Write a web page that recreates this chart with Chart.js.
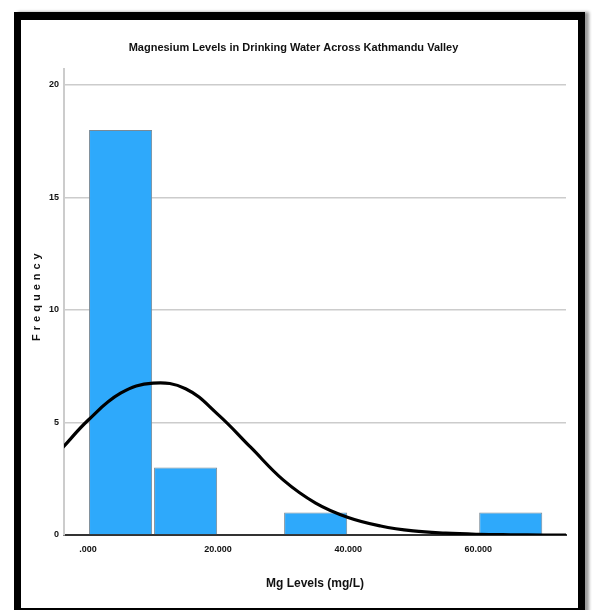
<!DOCTYPE html>
<html>
<head>
<meta charset="utf-8">
<script src="https://cdn.jsdelivr.net/npm/chart.js@4.4.1/dist/chart.umd.min.js"></script>
<style>
  body { margin: 0; background: #fff; width: 592px; height: 610px; overflow: hidden; position: relative; }
  #frame { position: absolute; left: 14px; top: 12px; width: 571px; height: 603px; box-sizing: border-box;
           border: 7px solid #000; border-top-width: 8px; box-shadow: 4px 0 3px #999; }
  #chart { position: absolute; left: 21px; top: 20px; }
</style>
</head>
<body>
<div id="frame"></div>
<canvas id="chart" width="556" height="588"></canvas>
<script>
// histogram bins (centres, mg/L) and counts
const binCentres = [5, 15, 25, 35, 45, 55, 65]
const counts = [18, 3, 0, 1, 0, 0, 1]

// fitted normal curve
const curveX = [-4, 0, 5, 10, 15, 20, 25, 30, 35, 40, 45, 50, 55, 60, 65, 70, 74]
const curveY = [3.85, 5.1, 6.3, 6.75, 6.5, 5.35, 3.9, 2.45, 1.42, 0.78, 0.4, 0.18, 0.08, 0.03, 0.01, 0, 0]

const xTicks = [0, 20, 40, 60]
const yTicks = [0, 5, 10, 15, 20]

const sans = '"Liberation Sans", Arial, sans-serif'

const yTitle = {
  id: 'yTitle',
  afterDraw(chart) {
    const ctx = chart.ctx
    ctx.save()
    ctx.translate(16, (chart.chartArea.top + chart.chartArea.bottom) / 2 - 5)
    ctx.rotate(-Math.PI / 2)
    ctx.font = 'bold 11px ' + sans
    ctx.letterSpacing = '4px'
    ctx.fillStyle = '#111'
    ctx.textAlign = 'center'
    ctx.textBaseline = 'middle'
    ctx.fillText('Frequency', 2, 0)
    ctx.restore()
  }
}

new Chart(document.getElementById('chart'), {
  data: {
    datasets: [{
      type: 'line',
      data: curveX.map((x, i) => ({x: x, y: curveY[i]})),
      borderColor: '#000',
      borderWidth: 3.2,
      pointRadius: 0,
      tension: 0.4,
      order: 0
    }, {
      type: 'bar',
      data: binCentres.map((x, i) => ({x: x, y: counts[i]})),
      backgroundColor: '#2ea9fb',
      borderColor: '#7a8a96',
      borderWidth: 1,
      categoryPercentage: 1,
      barPercentage: 0.97,
      order: 1
    }]
  },
  options: {
    responsive: false,
    animation: false,
    layout: { padding: { left: 0, right: 11, top: 0, bottom: 0 } },
    plugins: {
      legend: { display: false },
      tooltip: { enabled: false },
      title: {
        display: true,
        text: 'Magnesium Levels in Drinking Water Across Kathmandu Valley',
        color: '#111',
        font: { family: sans, size: 11, weight: 'bold' },
        padding: { top: 21, bottom: 15 }
      }
    },
    scales: {
      x: {
        type: 'linear',
        offset: false,
        min: -3.7,
        max: 73.5,
        afterBuildTicks: s => { s.ticks = xTicks.map(v => ({value: v})) },
        afterFit: s => { s.height = 73 },
        grid: { display: false, drawTicks: false },
        border: { color: '#333', width: 2 },
        ticks: {
          padding: 9,
          color: '#111',
          font: { family: sans, size: 9, weight: 'bold' },
          callback: v => v === 0 ? '.000' : v.toFixed(3)
        },
        title: {
          display: true,
          text: 'Mg Levels (mg/L)',
          color: '#111',
          font: { family: sans, size: 12, weight: 'bold' },
          padding: { top: 0, bottom: 17 }
        }
      },
      y: {
        min: 0,
        max: 20.7,
        afterBuildTicks: s => { s.ticks = yTicks.map(v => ({value: v})) },
        afterFit: s => { s.width = 43 },
        grid: { color: '#cccccc', lineWidth: 1.5, drawTicks: false },
        border: { color: '#cccccc', width: 2 },
        ticks: {
          padding: 5,
          color: '#111',
          font: { family: sans, size: 9, weight: 'bold' }
        }
      }
    }
  },
  plugins: [yTitle]
})
</script>
</body>
</html>
